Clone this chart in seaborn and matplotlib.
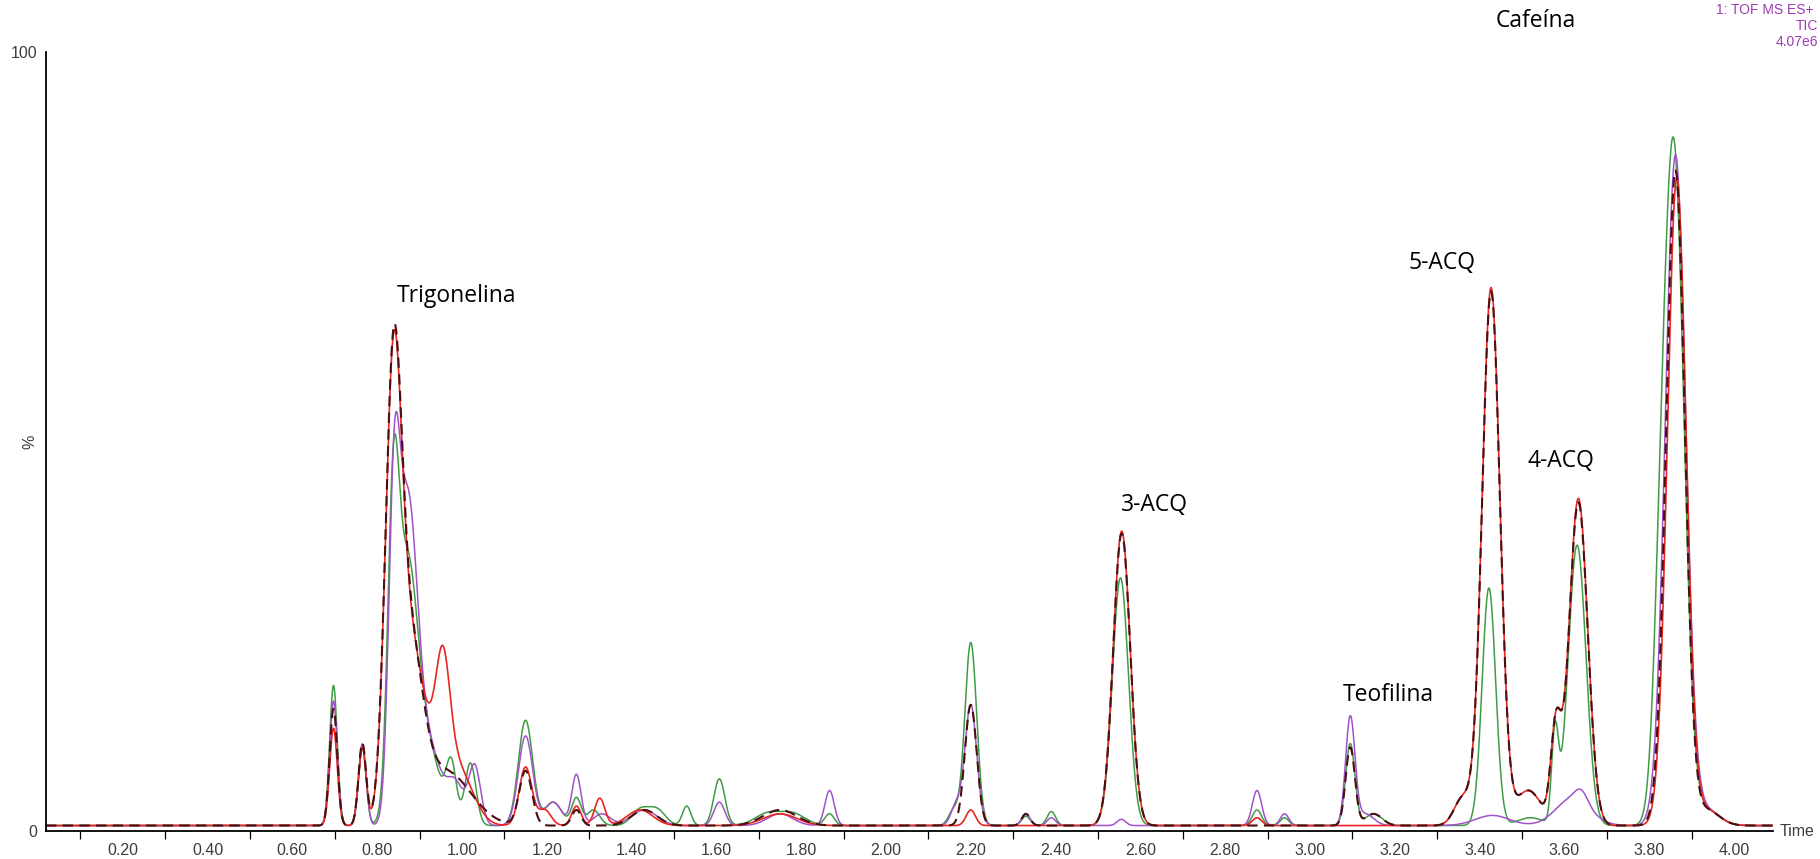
import numpy as np
import pandas as pd
import matplotlib
matplotlib.use("Agg")
import matplotlib.pyplot as plt
import seaborn as sns
from matplotlib.ticker import MultipleLocator, FixedLocator, FormatStrFormatter

# ---------------------------------------------------------------------------
# TIC chromatograms (1: TOF MS ES+), intensity in % of full scale (4.07e6)
# Each run is described by its peak table: retention time (min),
# height above baseline (%) and peak width (sigma, min).
# ---------------------------------------------------------------------------
baseline_level = 0.7

green_rt     = [0.697, 0.765, 0.838, 0.870, 0.920, 0.975, 1.020, 1.150, 1.215, 1.270, 1.310, 1.420, 1.460, 1.530, 1.607, 1.720, 1.780, 1.867, 2.160, 2.200, 2.330, 2.390, 2.553, 2.875, 2.940, 3.095, 3.150, 3.422, 3.520, 3.578, 3.630, 3.825, 3.858, 3.935]
green_height = [18.0, 10.0, 34.5, 32.0, 9.0, 7.0, 8.0, 13.5, 3.0, 3.5, 2.0, 2.0, 2.0, 2.5, 6.0, 1.5, 1.5, 1.5, 2.0, 23.5, 1.2, 1.8, 31.8, 2.0, 1.0, 10.5, 1.5, 30.5, 1.0, 11.5, 36.0, 14.0, 86.5, 2.0]
green_width  = [0.009, 0.009, 0.013, 0.025, 0.030, 0.012, 0.013, 0.017, 0.020, 0.011, 0.015, 0.020, 0.020, 0.010, 0.013, 0.030, 0.030, 0.011, 0.012, 0.014, 0.010, 0.010, 0.019, 0.011, 0.010, 0.011, 0.020, 0.016, 0.030, 0.008, 0.021, 0.016, 0.024, 0.030]

purple_rt     = [0.697, 0.765, 0.840, 0.872, 0.920, 0.985, 1.030, 1.150, 1.215, 1.270, 1.330, 1.430, 1.607, 1.750, 1.867, 2.165, 2.200, 2.330, 2.390, 2.555, 2.875, 2.940, 3.095, 3.130, 3.430, 3.620, 3.640, 3.862, 3.935]
purple_height = [16.0, 10.5, 37.0, 39.0, 10.0, 5.0, 7.5, 11.5, 3.0, 6.5, 1.5, 2.0, 3.0, 1.5, 4.5, 2.5, 15.5, 1.5, 1.0, 0.8, 4.5, 1.5, 13.8, 1.5, 1.3, 3.5, 1.5, 86.0, 2.0]
purple_width  = [0.009, 0.009, 0.013, 0.022, 0.030, 0.020, 0.014, 0.017, 0.020, 0.011, 0.020, 0.030, 0.013, 0.030, 0.011, 0.012, 0.014, 0.010, 0.010, 0.010, 0.011, 0.010, 0.011, 0.020, 0.040, 0.040, 0.015, 0.024, 0.030]

red_rt     = [0.697, 0.765, 0.838, 0.875, 0.950, 0.955, 1.010, 1.150, 1.195, 1.270, 1.325, 1.420, 1.750, 2.200, 2.556, 2.875, 3.360, 3.427, 3.515, 3.580, 3.633, 3.865, 3.935]
red_height = [12.5, 10.0, 52.5, 22.0, 10.0, 12.0, 3.0, 7.5, 2.0, 2.5, 3.5, 2.0, 1.5, 2.0, 37.8, 1.0, 3.5, 69.0, 4.5, 12.0, 42.0, 83.0, 2.0]
red_width  = [0.009, 0.009, 0.019, 0.030, 0.040, 0.016, 0.030, 0.015, 0.015, 0.011, 0.012, 0.030, 0.040, 0.011, 0.020, 0.011, 0.020, 0.021, 0.030, 0.012, 0.022, 0.022, 0.030]

dark_rt     = [0.697, 0.765, 0.838, 0.875, 0.960, 1.150, 1.270, 1.430, 1.750, 2.200, 2.330, 2.556, 3.095, 3.150, 3.360, 3.427, 3.515, 3.580, 3.633, 3.862, 3.935]
dark_height = [15.0, 10.5, 52.5, 22.0, 7.0, 7.0, 2.0, 2.0, 2.0, 15.5, 1.5, 37.5, 10.0, 1.5, 3.5, 68.5, 4.5, 12.0, 41.5, 84.0, 2.0]
dark_width  = [0.009, 0.009, 0.019, 0.030, 0.060, 0.015, 0.011, 0.030, 0.040, 0.014, 0.010, 0.020, 0.011, 0.020, 0.020, 0.021, 0.030, 0.012, 0.022, 0.022, 0.030]

run_names  = ["run A", "run B", "run C", "run D"]
run_colors = ["#3f9c45", "#a052c8", "#e8261f", "#4a0f12"]

# Compound labels: text, retention time (min), label height (%)
compound_names = ["Trigonelina", "3-ACQ", "Teofilina", "5-ACQ", "4-ACQ", "Cafeína"]
compound_rt    = [0.988, 2.634, 3.184, 3.311, 3.592, 3.533]
compound_level = [68.7, 41.8, 17.5, 72.9, 47.5, 104.0]

x_major = [0.20, 0.40, 0.60, 0.80, 1.00, 1.20, 1.40, 1.60, 1.80, 2.00,
           2.20, 2.40, 2.60, 2.80, 3.00, 3.20, 3.40, 3.60, 3.80, 4.00]

t_min, t_max = 0.019, 4.092
time_axis = np.linspace(t_min, t_max, 3000)


def trace(rt, height, width):
    y = np.full_like(time_axis, baseline_level)
    for c, h, s in zip(rt, height, width):
        y += h * np.exp(-0.5 * ((time_axis - c) / s) ** 2)
    return y


tables = [(green_rt, green_height, green_width),
          (purple_rt, purple_height, purple_width),
          (red_rt, red_height, red_width),
          (dark_rt, dark_height, dark_width)]

frames = []
for name, (rt, h, w) in zip(run_names, tables):
    frames.append(pd.DataFrame({"Time": time_axis, "Intensity": trace(rt, h, w), "Run": name}))
data = pd.concat(frames, ignore_index=True)

sns.set_style("white")
plt.rcParams["font.family"] = ["Liberation Sans", "DejaVu Sans"]

W, H = 1820, 859
fig = plt.figure(figsize=(W / 100, H / 100), dpi=100)
ax = fig.add_axes([46 / W, 28 / H, (1773 - 46) / W, 779 / H])

styles = {"run A": dict(lw=1.1), "run B": dict(lw=1.1), "run C": dict(lw=1.2),
          "run D": dict(lw=1.5, linestyle=(0, (5, 3)))}
for name, color in zip(run_names, run_colors):
    sub = data[data["Run"] == name]
    sns.lineplot(data=sub, x="Time", y="Intensity", color=color, ax=ax,
                 estimator=None, sort=False, legend=False, **styles[name])

ax.set_xlim(t_min, t_max)
ax.set_ylim(0, 100)
ax.set_xlabel("")
ax.set_ylabel("")

for side in ["top", "right"]:
    ax.spines[side].set_visible(False)
for side in ["left", "bottom"]:
    ax.spines[side].set_color("black")
    ax.spines[side].set_linewidth(1.3)

# x axis: labelled every 0.2 min, minor ticks every 0.02 min, mid ticks every 0.1
ax.xaxis.set_major_locator(FixedLocator(x_major))
ax.xaxis.set_major_formatter(FormatStrFormatter("%.2f"))
ax.xaxis.set_minor_locator(MultipleLocator(0.02))
ax.tick_params(axis="x", which="major", direction="out", length=5.5, width=1.0,
               color="black", labelsize=11.5, labelcolor="#3c3c3c", pad=3)
ax.tick_params(axis="x", which="minor", direction="out", length=3.0, width=0.9, color="black")

mid = ax.secondary_xaxis("bottom")
mid.set_xticks([round(v - 0.1, 2) for v in x_major] + [4.10])
mid.tick_params(axis="x", direction="out", length=5.5, width=0.9, color="black", labelbottom=False)
mid.spines["bottom"].set_visible(False)

# y axis: 0, % and 100 marks only
ax.set_yticks([0, 50, 100])
ax.set_yticklabels(["0", "%", "100"])
ax.tick_params(axis="y", direction="out", length=4.5, width=1.0, color="black",
               labelsize=11.5, labelcolor="#3c3c3c", pad=1.5)
ax.get_yticklabels()[1].set_rotation(90)
ax.get_yticklabels()[1].set_verticalalignment("center")

fig.text(1780 / W, 1 - 831 / H, "Time", ha="left", va="center", fontsize=11.5, color="#3c3c3c")

# Instrument / scan description
info_color = "#a03cb4"
fig.text(1813 / W, 1 - 10 / H, "1: TOF MS ES+", ha="right", va="center", fontsize=10, color=info_color)
fig.text(1818 / W, 1 - 26 / H, "TIC", ha="right", va="center", fontsize=10, color=info_color)
fig.text(1818 / W, 1 - 42 / H, "4.07e6", ha="right", va="center", fontsize=10, color=info_color)

for name, t, lvl in zip(compound_names, compound_rt, compound_level):
    ax.text(t, lvl, name, ha="center", va="center", fontsize=16.5, color="black",
            family=["Open Sans", "DejaVu Sans"], clip_on=False)

fig.savefig("out.png", dpi=100, facecolor="white")
